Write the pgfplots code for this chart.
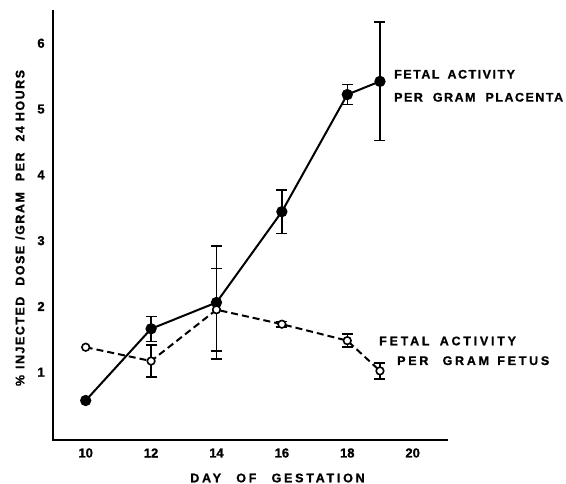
\documentclass[border=0pt]{standalone}
\usepackage{fontspec}
\setmainfont{Liberation Sans}[BoldFeatures={FakeBold=1}]
\newfontfamily\lab[LetterSpace=12, BoldFeatures={FakeBold=1}]{Liberation Sans}
\newfontfamily\labw[LetterSpace=22, BoldFeatures={FakeBold=1}]{Liberation Sans}
\usepackage{pgfplots}
\pgfplotsset{compat=1.18}
\begin{document}
\begin{tikzpicture}
\useasboundingbox (0pt,0pt) rectangle (566pt,484pt);
\begin{axis}[
  at={(53pt,44pt)}, anchor=south west,
  scale only axis, width=394pt, height=429pt,
  xmin=9, xmax=21.05, ymin=-0.03, ymax=6.49,
  axis x line=bottom, axis y line=left,
  axis line style={-, line width=2.8pt, line cap=rect},
  xtick={10,12,14,16,18,20}, ytick={1,2,3,4,5,6},
  major tick length=0pt,
  /pgf/number format/assume math mode=true,
  tick label style={font=\bfseries\fontsize{13}{13}\selectfont},
  xticklabel style={anchor=center, yshift=-13pt},
  yticklabel style={anchor=center, xshift=-12pt},
  clip=false,
]
% error bars, placenta
\addplot[forget plot, draw=none, mark=none,
  error bars/.cd, y dir=both, y explicit,
  error bar style={draw=black, line width=1.5pt, solid},
  error mark options={draw=black, rotate=90, mark size=5.5pt, line width=1.5pt}]
  coordinates {(12,1.66) +- (0,0.19) (14,2.06) +- (0,0.86) (16,3.44) +- (0,0.33) (18,5.22) +- (0,0.15) (19,5.42) +- (0,0.9)};
% error bars, fetus
\addplot[forget plot, draw=none, mark=none,
  error bars/.cd, y dir=both, y explicit,
  error bar style={draw=black, line width=1.5pt, solid},
  error mark options={draw=black, rotate=90, mark size=5.5pt, line width=1.5pt}]
  coordinates {(12,1.17) +- (0,0.24) (14,1.95) +- (0,0.63) (16,1.73) +- (0,0.04) (18,1.48) +- (0,0.1) (19,1.02) +- (0,0.12)};
% placenta
\addplot[black, line width=2pt, mark=*, mark size=4.6pt]
  coordinates {(10,0.57) (12,1.66) (14,2.06) (16,3.44) (18,5.22) (19,5.42)};
% fetus
\addplot[black, line width=2pt, dash pattern=on 7pt off 4pt, mark=*, mark size=3.8pt,
  mark options={solid, fill=white, line width=1.6pt}]
  coordinates {(10,1.38) (12,1.17) (14,1.95) (16,1.73) (18,1.48) (19,1.02)};
\end{axis}
\node[anchor=west, inner sep=0pt, font=\lab\bfseries\fontsize{12.5}{12.5}\selectfont] at (394pt,409.7pt) {FETAL\hspace{3pt} ACTIVITY};
\node[anchor=west, inner sep=0pt, font=\lab\bfseries\fontsize{12.5}{12.5}\selectfont] at (394pt,386.7pt) {PER\hspace{5pt} GRAM\hspace{5pt} PLACENTA};
\node[anchor=west, inner sep=0pt, font=\labw\bfseries\fontsize{12.5}{12.5}\selectfont] at (379pt,143pt) {FETAL\hspace{4pt} ACTIVITY};
\node[anchor=west, inner sep=0pt, font=\labw\bfseries\fontsize{12.5}{12.5}\selectfont] at (397pt,123.3pt) {PER\hspace{8pt} GRAM\hspace{2pt} FETUS};
\node[inner sep=0pt, font=\labw\bfseries\fontsize{12.5}{12.5}\selectfont] at (277.5pt,6pt) {DAY\hspace{9pt} OF\hspace{9pt} GESTATION};
\node[inner sep=0pt, rotate=90, font=\lab\bfseries\fontsize{12.5}{12.5}\selectfont] at (20pt,256pt) {\%\hspace{1pt} INJECTED\hspace{6pt} DOSE\hspace{1pt} /GRAM\hspace{6pt} PER\hspace{6pt} 24 HOURS};
\end{tikzpicture}
\end{document}
